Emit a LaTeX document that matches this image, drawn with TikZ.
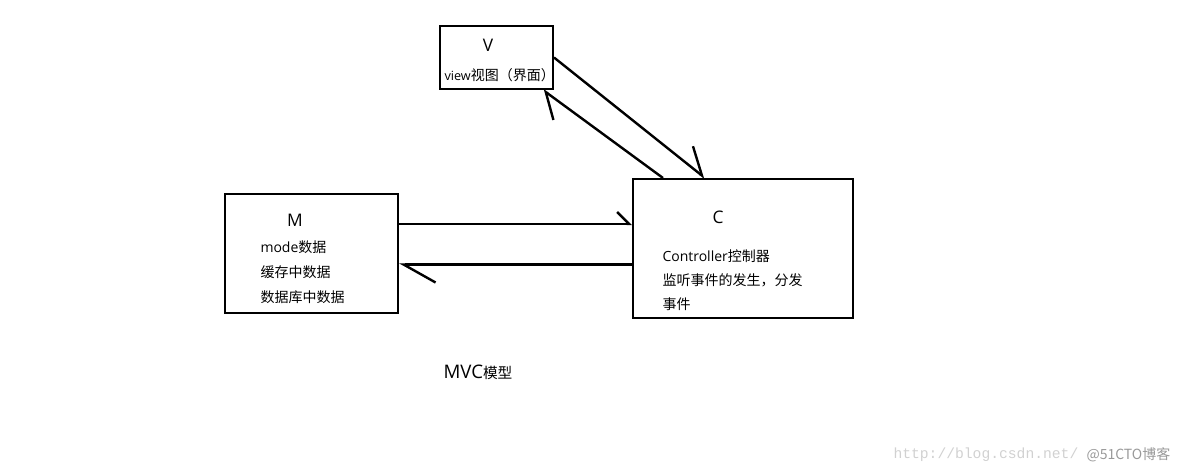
\documentclass[tikz,border=0pt]{standalone}
\usepackage{fontspec}
\setmainfont{Noto Sans CJK SC}
\newfontfamily\urlfont{Liberation Mono}
\newfontfamily\lat{Open Sans}
\usetikzlibrary{arrows.meta}

\tikzset{every picture/.style={line width=0.75pt}}
\tikzset{
  box/.style={draw,line width=1.5pt,inner sep=0pt},
  letter/.style={inner sep=0.75pt,font=\lat\fontsize{13}{15}\selectfont},
  txt/.style={anchor=west,inner sep=0.75pt,font=\fontsize{10.5}{12}\selectfont},
  flow/.style={line width=1.8pt}
}

\begin{document}
\begin{tikzpicture}[x=0.75pt,y=0.75pt,yscale=-1,xscale=1]
\useasboundingbox (0,0) rectangle (1184,472);

%Boxes
\node [box,minimum width=84.75pt,minimum height=47.25pt] (v) at (496.5,57.5) {};
\node [box,minimum width=129.75pt,minimum height=89.25pt] (m) at (311.5,253.5) {};
\node [box,minimum width=165pt,minimum height=104.25pt] (c) at (743,248.5) {};

%helper coordinates for the connectors
\coordinate (upper) at (0,224);
\coordinate (lower) at (0,264.5);
\coordinate (down) at (705,0);
\coordinate (up) at (663,0);
\coordinate (foot) at (543,0);

%M to C
\draw [flow,-{Straight Barb[harpoon,length=9pt,width=18pt]}] (m.east |- upper) -- (c.west |- upper);
%C to M
\draw [flow,-{Straight Barb[harpoon,length=24pt,width=27pt]}] (c.west |- lower) -- (m.east |- lower);
%V to C
\draw [flow,-{Straight Barb[harpoon,length=19pt,width=26pt]}] (v.east) -- (c.north -| down);
%C to V
\draw [flow,-{Straight Barb[harpoon,length=17pt,width=27pt]}] (c.north -| up) -- (v.south -| foot);

% Text Node
\node [letter] (vname) at (488,45) {V};
\node [txt] (vtext) at (443,75) {{\lat\fontsize{9.5}{12}\selectfont view}视图（界面）};
% Text Node
\node [letter] (mname) at (295,220) {M};
\node [txt] (mtext1) at (259,247) {{\lat mode}数据};
\node [txt] (mtext2) at (259,272) {缓存中数据};
\node [txt] (mtext3) at (259,297) {数据库中数据};
% Text Node
\node [letter] (cname) at (718,217) {C};
\node [txt] (ctext1) at (661,256) {{\lat Controller}控制器};
\node [txt] (ctext2) at (661,280) {监听事件的发生，分发};
\node [txt] (ctext3) at (661,304) {事件};
% Text Node
\node [txt,font=\fontsize{11}{14}\selectfont] (title) at (442,372) {{\lat\fontsize{14}{16}\selectfont MVC}模型};
% watermark
\node [txt,text=black!18,font=\urlfont\fontsize{11}{12}\selectfont] (url) at (892,455) {http://blog.csdn.net/};
\node [txt,text=black!40,font=\fontsize{10.5}{12}\selectfont] (site) at (1085,455) {@51CTO博客};

\end{tikzpicture}
\end{document}
